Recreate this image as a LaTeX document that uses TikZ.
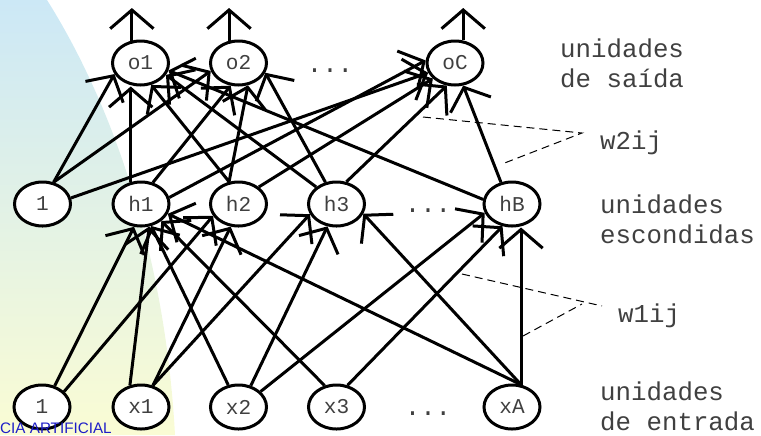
\documentclass[tikz,border=0pt]{standalone}
\usepackage{fontspec}
\newfontfamily\unitfont{Liberation Mono}
\newfontfamily\slidefont{Liberation Sans}
\usetikzlibrary{shapes.geometric,arrows.meta}
\definecolor{slideblue}{RGB}{204,232,246}
\definecolor{slideyellow}{RGB}{250,252,212}
\definecolor{titleblue}{RGB}{30,30,200}
\begin{document}
\begin{tikzpicture}[x=0.03cm,y=-0.03cm,
        unit/.style={draw,ellipse,fill=white,line width=0.09cm,minimum width=1.68cm,minimum height=1.32cm,inner sep=0pt,text=black!75,font=\unitfont\fontsize{18pt}{18pt}\selectfont},
        wire/.style={line width=0.09cm,-{Straight Barb[length=0.56cm,width=1.3cm]}},
        weight/.style={line width=0.03cm,dash pattern=on 0.24cm off 0.15cm},
        caption/.style={anchor=base west,align=left,inner sep=0pt,text=black!75,font=\unitfont\fontsize{22pt}{25.6pt}\selectfont}]
        \useasboundingbox (0,0) rectangle (761,435);
        \shade[top color=slideblue,bottom color=slideyellow] (0,0) -- (47,0) .. controls (110,100) and (165,250) .. (175,435) -- (0,435) -- cycle;
        \node[unit] (o1) at (140.5,63) {o1};
        \node[unit] (o2) at (238.5,63) {o2};
        \node[unit] (oC) at (455,63) {oC};
        \node[caption,anchor=base] (odots) at (330,72) {...};
        \node[unit] (h0) at (42.5,204) {1};
        \node[unit] (h1) at (141,204) {h1};
        \node[unit] (h2) at (238.5,204) {h2};
        \node[unit] (h3) at (336.5,204) {h3};
        \node[caption,anchor=base] (hdots) at (428,212) {...};
        \node[unit] (hB) at (512,204) {hB};
        \node[unit] (x0) at (42,407) {1};
        \node[unit] (x1) at (141,407) {x1};
        \node[unit] (x2) at (238.5,407) {x2};
        \node[unit] (x3) at (336.5,407) {x3};
        \node[caption,anchor=base] (xdots) at (428,415) {...};
        \node[unit] (xA) at (512,407) {xA};
        \node[anchor=base west,inner sep=0pt,text=titleblue,font=\slidefont\fontsize{13pt}{13pt}\selectfont] (title) at (0,433) {CIA ARTIFICIAL};
        \coordinate (top) at (0,8);
        \draw[wire] (o1.111) -- (o1.111 |- top);
        \draw[wire] (o2.113) -- (o2.113 |- top);
        \draw[wire] (oC.70) -- (oC.70 |- top);
        \draw[wire] (h0.63) -- (o1.203);
        \draw[wire] (h0.63) -- (o2.196);
        \draw[wire] (h0.12) -- (oC.200);
        \draw[wire] (h1.115) -- (h1.115 |- o1.south);
        \draw[wire] (h1.61) -- (o2.251);
        \draw[wire] (h1.13) -- (oC.175);
        \draw[wire] (h2.113) -- (o1.296);
        \draw[wire] (h2.113) -- (o2.293);
        \draw[wire] (h2.40) -- (oC.215);
        \draw[wire] (h3.117) -- (o2.340);
        \draw[wire] (h3.140) -- (o1.335);
        \draw[wire] (h3.66) -- (oC.250);
        \draw[wire] (hB.171) -- (o1.345);
        \draw[wire] (hB.117) -- (oC.290);
        \draw[wire] (x0.59) -- (h1.253);
        \draw[wire] (x0.35) -- (h2.205);
        \draw[wire] (x1.117) -- (h1.290);
        \draw[wire] (x1.61) -- (h2.251);
        \draw[wire] (x1.61) -- (h3.201);
        \draw[wire] (x2.115) -- (h1.295);
        \draw[wire] (x2.60) -- (h3.248);
        \draw[wire] (x2.35) -- (hB.198);
        \draw[wire] (x3.119) -- (h1.320);
        \draw[wire] (x3.63) -- (hB.247);
        \draw[wire] (xA.68) -- (h1.340);
        \draw[wire] (xA.68) -- (h3.340);
        \draw[wire] (xA.68) -- (xA.68 |- hB.south);
        \coordinate (w2a) at (423,117);
        \coordinate (w2) at (582,133);
        \coordinate (w2b) at (502,164);
        \draw[weight] (w2a) -- (w2) -- (w2b);
        \coordinate (w1a) at (462,274);
        \coordinate (w1) at (602,306);
        \coordinate (w1b) at (523,336);
        \coordinate (w1c) at (582,304);
        \draw[weight] (w1a) -- (w1);
        \draw[weight] (w1b) -- (w1c);
        \node[caption] (outtext) at (560,87) {unidades\\de saída};
        \node[caption] (w2text) at (600,149) {w2ij};
        \node[caption] (hidtext) at (600,243) {unidades\\escondidas};
        \node[caption] (w1text) at (618,322) {w1ij};
        \node[caption] (intext) at (600,430) {unidades\\de entrada};
    \end{tikzpicture}
\end{document}
